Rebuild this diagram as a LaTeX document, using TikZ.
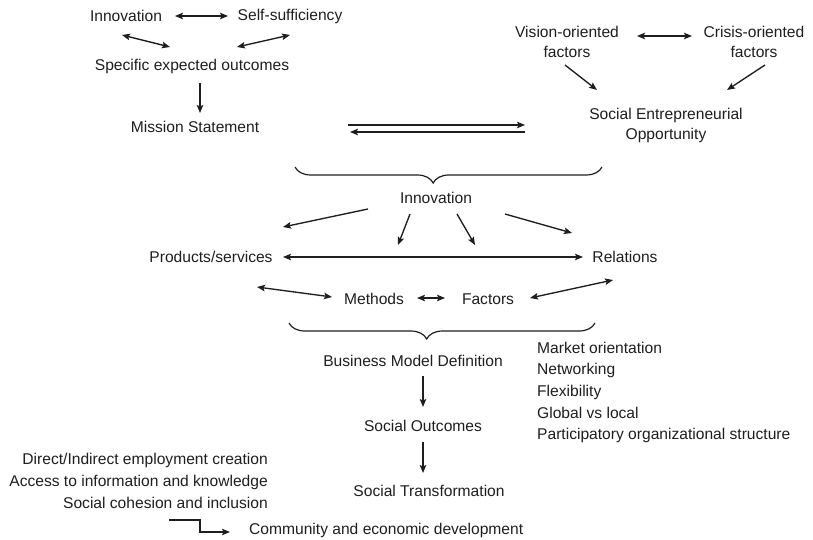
\documentclass[tikz,border=0pt]{standalone}
\usepackage{fontspec}
\setmainfont{Liberation Sans}
\usetikzlibrary{arrows.meta,decorations.pathreplacing}
\definecolor{ink}{HTML}{1E1E1E}
\tikzset{
  lbl/.style={inner sep=0pt, text=ink, font=\fontsize{15.6}{20}\selectfont},
  tip/.tip={Stealth[length=8pt,width=6.5pt,inset=1.5pt]},
  conn/.style={draw=ink, line width=1.35pt, -tip},
  bconn/.style={draw=ink, line width=1.35pt, tip-tip},
  bracestyle/.style={draw=ink, line width=1.2pt, decorate, decoration={brace, amplitude=16pt, aspect=0.45}}
}
\begin{document}
\begin{tikzpicture}[x=1pt,y=-1pt]
\useasboundingbox (0,0) rectangle (813,540);
% nodes
\node[lbl] (inn1) at (126,16) {Innovation};
\node[lbl] (self) at (290,16) {Self-sufficiency};
\node[lbl] (seo) at (192,66) {Specific expected outcomes};
\node[lbl] (ms) at (195,127) {Mission Statement};
\node[lbl, align=center] (vof) at (567,42) {Vision-oriented\\factors};
\node[lbl, align=center] (cof) at (754,42) {Crisis-oriented\\factors};
\node[lbl, align=center] (seop) at (666,125) {Social Entrepreneurial\\Opportunity};
\node[lbl] (inn2) at (436,198) {Innovation};
\node[lbl] (ps) at (211,257) {Products/services};
\node[lbl] (rel) at (625,257) {Relations};
\node[lbl] (meth) at (374,299) {Methods};
\node[lbl] (fac) at (488,299) {Factors};
\node[lbl] (bmd) at (413,361) {Business Model Definition};
\node[lbl] (so) at (423,426) {Social Outcomes};
\node[lbl] (st) at (429,491) {Social Transformation};
\node[lbl, anchor=west, align=left, font=\fontsize{15.6}{21.7}\selectfont] (mkt) at (537,392.5)
  {Market orientation\\Networking\\Flexibility\\Global vs local\\Participatory organizational structure};
\node[lbl, anchor=east, align=right, font=\fontsize{15.6}{22}\selectfont] (emp) at (268,481)
  {Direct/Indirect employment creation\\Access to information and knowledge\\Social cohesion and inclusion};
\node[lbl, anchor=west] (ced) at (249,530) {Community and economic development};
% coordinates for arrow ends
\coordinate (a1) at (175,16); \coordinate (a2) at (228,16);
\coordinate (b1) at (122,35); \coordinate (b2) at (170,47);
\coordinate (c1) at (237,47); \coordinate (c2) at (290,35);
\coordinate (d1) at (200,83); \coordinate (d2) at (200,113);
\coordinate (e1) at (348,125); \coordinate (e2) at (525,125);
\coordinate (f1) at (525,132); \coordinate (f2) at (350,132);
\coordinate (g1) at (637,36); \coordinate (g2) at (692,36);
\coordinate (h1) at (565,65); \coordinate (h2) at (597,90);
\coordinate (i1) at (765,65); \coordinate (i2) at (727,90);
\coordinate (j1) at (368,209); \coordinate (j2) at (283,227);
\coordinate (k1) at (410,214); \coordinate (k2) at (398,245);
\coordinate (l1) at (457,214); \coordinate (l2) at (475,245);
\coordinate (m1) at (505,214); \coordinate (m2) at (572,233);
\coordinate (n1) at (283,257); \coordinate (n2) at (583,257);
\coordinate (o1) at (257,287); \coordinate (o2) at (332,297);
\coordinate (p1) at (417,298); \coordinate (p2) at (445,298);
\coordinate (q1) at (530,298); \coordinate (q2) at (613,280);
\coordinate (r1) at (423,376); \coordinate (r2) at (423,407);
\coordinate (s1) at (423,442); \coordinate (s2) at (423,473);
\coordinate (t1) at (169,520); \coordinate (t2) at (230,532);
% connectors
\draw[bconn] (a1) -- (a2);
\draw[bconn] (b1) -- (b2);
\draw[bconn] (c1) -- (c2);
\draw[conn] (d1) -- (d2);
\draw[conn] (e1) -- (e2);
\draw[conn] (f1) -- (f2);
\draw[bconn] (g1) -- (g2);
\draw[conn] (h1) -- (h2);
\draw[conn] (i1) -- (i2);
\draw[conn] (j1) -- (j2);
\draw[conn] (k1) -- (k2);
\draw[conn] (l1) -- (l2);
\draw[conn] (m1) -- (m2);
\draw[bconn] (n1) -- (n2);
\draw[bconn] (o1) -- (o2);
\draw[bconn] (p1) -- (p2);
\draw[bconn] (q1) -- (q2);
\draw[conn] (r1) -- (r2);
\draw[conn] (s1) -- (s2);
\draw[conn] (t1) -- (200,520) -- (200,532) -- (t2);
% braces
\coordinate (br1a) at (295,167); \coordinate (br1b) at (602,167);
\coordinate (br2a) at (289,323); \coordinate (br2b) at (595,323);
\draw[bracestyle, decoration={mirror}] (br1a) -- (br1b);
\draw[bracestyle, decoration={mirror}] (br2a) -- (br2b);
\end{tikzpicture}
\end{document}
